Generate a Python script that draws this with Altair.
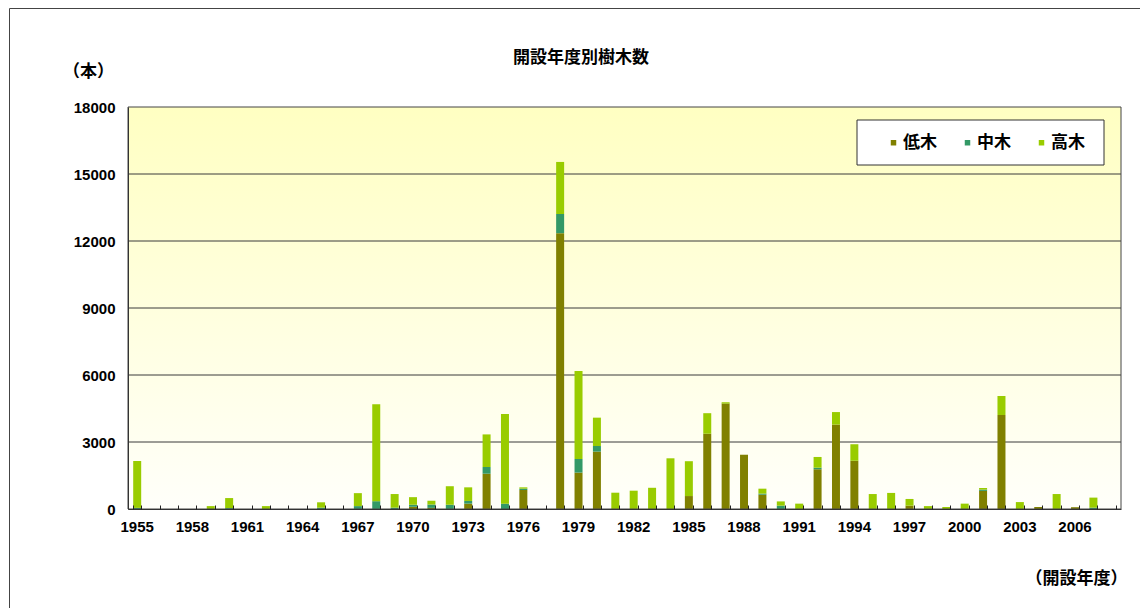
import altair as alt
import pandas as pd

years = [str(y) for y in range(1955, 2009)]
low = [0, 0, 0, 0, 0, 0, 0, 0, 0, 0,
       0, 0, 0, 0, 0, 100, 50, 0, 240, 1580,
       0, 850, 0, 12350, 1630, 2570, 0, 0, 0, 0,
       580, 3370, 4720, 2430, 640, 0, 0, 1780, 3780, 2160,
       0, 0, 150, 0, 0, 0, 810, 4210, 0, 90,
       0, 80, 0, 0]
mid = [50, 0, 0, 0, 0, 40, 0, 0, 0, 0,
       60, 0, 130, 350, 60, 90, 150, 190, 120, 300,
       240, 60, 0, 860, 610, 250, 0, 0, 0, 0,
       0, 0, 0, 0, 50, 150, 0, 70, 0, 0,
       0, 0, 0, 0, 0, 0, 60, 0, 0, 0,
       0, 0, 60, 0]
high = [2100, 0, 0, 0, 130, 450, 0, 130, 0, 0,
        240, 0, 580, 4340, 610, 340, 170, 830, 610, 1460,
        4010, 60, 0, 2330, 3940, 1270, 730, 820, 950, 2270,
        1560, 920, 60, 0, 220, 190, 240, 480, 560, 740,
        670, 720, 300, 130, 90, 240, 70, 850, 310, 0,
        670, 0, 450, 0]
types = ["低木", "中木", "高木"]
colors = ["#808000", "#339966", "#99CC00"]
y_ticks = [0, 3000, 6000, 9000, 12000, 15000, 18000]
grid_values = [3000, 6000, 9000, 12000, 15000]
chart_title = "開設年度別樹木数"

rows = []
for i, y in enumerate(years):
    for k, (t, arr) in enumerate(zip(types, [low, mid, high])):
        rows.append({"year": y, "type": t, "value": arr[i], "ord": k})
df = pd.DataFrame(rows)

W, H = 993, 402
CJK = "Noto Sans CJK JP"
NUM = "Liberation Sans"
CJK_SIZE = 17

xscale = alt.Scale(domain=years, paddingInner=0.565, paddingOuter=0.2825)
yscale = alt.Scale(domain=[0, 18000], nice=False)

yaxis = alt.Axis(values=y_ticks, format="d", grid=False, ticks=False,
                 labelPadding=13, labelFont=NUM, labelFontSize=15,
                 labelFontWeight="bold", labelColor="#000",
                 domainColor="#333", zindex=1,
                 title="（本）", titleAngle=0, titleX=-40, titleY=-36,
                 titleAlign="center", titleBaseline="middle",
                 titleFont=CJK, titleFontSize=CJK_SIZE, titleFontWeight="bold",
                 titleColor="#000")

one = pd.DataFrame({"k": [0]})

bg = alt.Chart(one).mark_rect(
    fill=alt.Gradient(
        gradient="linear",
        stops=[alt.GradientStop(color="#FFFFC2", offset=0),
               alt.GradientStop(color="#FFFFFA", offset=1)],
        x1=0, x2=0, y1=0, y2=1)
).encode(x=alt.value(0), x2=alt.value(W), y=alt.value(0), y2=alt.value(H))

grid = alt.Chart(pd.DataFrame({"g": grid_values})).mark_rule(
    color="#3a3a3a", strokeWidth=1
).encode(y=alt.Y("g:Q", scale=yscale, axis=yaxis))

bars = alt.Chart(df).mark_bar().encode(
    x=alt.X("year:O", scale=xscale, sort=years,
            axis=alt.Axis(orient="bottom", title="（開設年度）", labelAngle=0,
                          ticks=False, labelPadding=10,
                          labelExpr="(toNumber(datum.value) - 1955) % 3 == 0 ? datum.value : ''",
                          labelFont=NUM, labelFontSize=15, labelFontWeight="bold",
                          labelColor="#000", domainColor="#333", zindex=1,
                          titleFont=CJK, titleFontSize=CJK_SIZE, titleFontWeight="bold",
                          titleColor="#000", titleX=948, titleY=69,
                          titleAlign="center", titleBaseline="middle")),
    y=alt.Y("value:Q", stack="zero", scale=yscale, axis=yaxis),
    color=alt.Color("type:N", scale=alt.Scale(domain=types, range=colors),
                    legend=alt.Legend(orient="none", legendX=757, legendY=27,
                                      direction="horizontal", title=None,
                                      symbolType="square", symbolSize=30,
                                      symbolStrokeWidth=0,
                                      labelFont=CJK, labelFontSize=CJK_SIZE,
                                      labelFontWeight="bold", labelColor="#000",
                                      labelOffset=1, columnPadding=22, padding=0)),
    order=alt.Order("ord:Q"),
)

legend_box = alt.Chart(one).mark_rect(
    fill="white", stroke="#333", strokeWidth=1
).encode(x=alt.value(729), x2=alt.value(976), y=alt.value(13), y2=alt.value(58))

ticks = alt.Chart(pd.DataFrame({"year": years})).mark_tick(opacity=0).encode(
    x=alt.X("year:O", scale=xscale, sort=years,
            axis=alt.Axis(orient="top", offset=-H, labels=False, domain=False,
                          grid=False, tickBand="extent", tickSize=4,
                          tickColor="#222", title=None, zindex=1))
)

border = alt.Chart(one).mark_rect(
    fillOpacity=0, stroke="#444", strokeWidth=1
).encode(x=alt.value(0), x2=alt.value(W), y=alt.value(0), y2=alt.value(H))

title_text = alt.Chart(one).mark_text(
    font=CJK, fontSize=CJK_SIZE, fontWeight="bold", color="#000",
    align="center", baseline="middle"
).encode(x=alt.value(453), y=alt.value(-49), text=alt.value(chart_title))

frame_left = alt.Chart(one).mark_rule(color="#444", strokeWidth=1).encode(
    x=alt.value(-118.5), y=alt.value(-98.5), y2=alt.value(H + 100))
frame_top = alt.Chart(one).mark_rule(color="#444", strokeWidth=1).encode(
    x=alt.value(-118.5), x2=alt.value(W + 40), y=alt.value(-98.5))

chart = alt.layer(
    bg, grid, bars, legend_box, ticks, border, title_text, frame_left, frame_top
).resolve_axis(x="independent").properties(
    width=W, height=H,
    autosize=alt.AutoSizeParams(type="none"),
    padding={"left": 120, "top": 99, "right": 19, "bottom": 99},
).configure_view(stroke=None)

chart.save("out.html", embed_options={"renderer": "svg", "actions": False})
